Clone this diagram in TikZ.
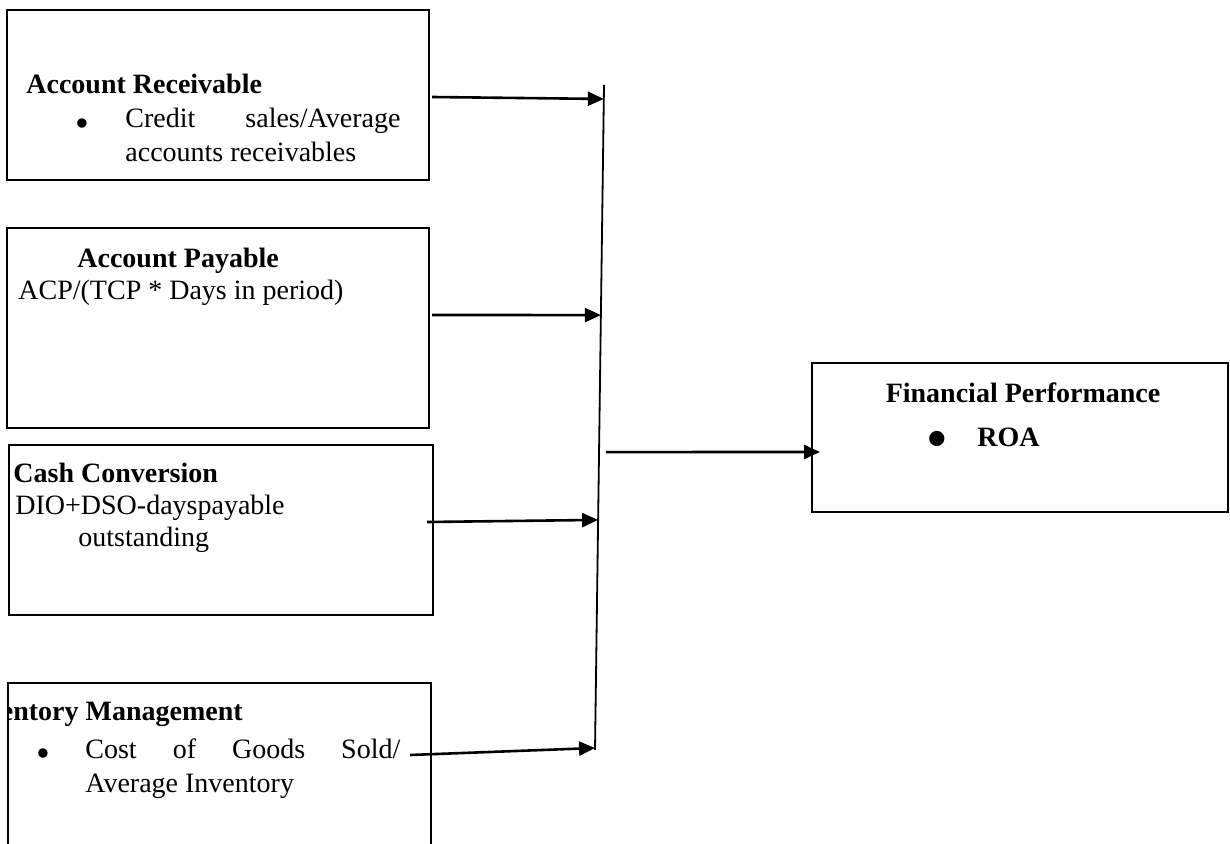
\documentclass[tikz,border=0pt]{standalone}
\usepackage{fontspec}
\setmainfont{Liberation Serif}
\usepackage{tikz}
\usetikzlibrary{arrows.meta,calc}
\tikzset{
  block/.style={
    draw,
    line width=1pt,
    inner sep=0pt,
    outer sep=0pt
  },
  txt/.style={
    inner sep=0pt,
    anchor=base west,
    font=\fontsize{14}{17}\selectfont
  },
  head/.style={
    txt,
    font=\fontsize{14}{17}\selectfont\bfseries
  },
  dot/.style={
    inner sep=0pt,
    anchor=base,
    font=\fontsize{14}{17}\selectfont
  },
  flow/.style={
    line width=1.3pt,
    -{Triangle[length=8pt,width=7pt]}
  },
  bus/.style={
    line width=0.9pt
  }
}
\begin{document}
\begin{tikzpicture}[x=0.5pt,y=-0.5pt]
        \useasboundingbox (0,0) rectangle (1230,844);
        \clip (0,0) rectangle (1230,844);
        % boxes
        \node[block, minimum width=211pt, minimum height=85pt] (recv) at (218,95) {};
        \node[block, minimum width=211pt, minimum height=100pt] (pay) at (218,328) {};
        \node[block, minimum width=212pt, minimum height=85pt] (cash) at (221,530) {};
        \node[block, minimum width=211.5pt, minimum height=101pt] (inv) at (219.5,784) {};
        \node[block, minimum width=208pt, minimum height=74.5pt] (fin) at (1020,437.5) {};
        % texts
        \node[head] (recvT) at (26,94) {Account Receivable};
        \node[dot] (recvB) at (82,136.5) {\scalebox{1.4}{•}};
        \node[txt] (recvL1) at (125,128) {\makebox[137.5pt][s]{Credit sales/Average}};
        \node[txt] (recvL2) at (125,162) {accounts receivables};
        \node[head] (payT) at (77,268) {Account Payable};
        \node[txt] (payL1) at (18,300) {ACP/(TCP * Days in period)};
        \node[head] (cashT) at (13,482) {Cash Conversion};
        \node[txt] (cashL1) at (15,514) {DIO+DSO-dayspayable};
        \node[txt] (cashL2) at (78,546) {outstanding};
        \begin{scope}
          \clip (inv.north west) rectangle (inv.south east);
          \node[head] (invT) at (-40,720) {Inventory Management};
        \end{scope}
        \node[dot] (invB) at (43,766.5) {\scalebox{1.4}{•}};
        \node[txt] (invL1) at (85,758) {\makebox[157.5pt][s]{Cost of Goods Sold/}};
        \node[txt] (invL2) at (85,792) {Average Inventory};
        \node[head, anchor=base] (finT) at (1023,402) {Financial Performance};
        \node[dot, font=\fontsize{14}{17}\selectfont\bfseries] (finB) at (937,457) {\scalebox{2}{•}};
        \node[head] (finL1) at (977,446) {ROA};
        % connectors
        \coordinate (bustop) at (604,85);
        \coordinate (busbot) at (595,750);
        \coordinate (in1) at ($(bustop)!0.021!(busbot)$);
        \coordinate (in2) at ($(bustop)!0.346!(busbot)$);
        \coordinate (in3) at ($(bustop)!0.654!(busbot)$);
        \coordinate (in4) at ($(bustop)!0.997!(busbot)$);
        \coordinate (out5) at ($(bustop)!0.552!(busbot)+(7,0)$);
        \draw[bus] (bustop) -- (busbot);
        \draw[flow] ([shift={(3,2)}]recv.east) -- (in1);
        \draw[flow] ([shift={(3,-13)}]pay.east) -- (in2);
        \draw[flow] ([shift={(-6,-8)}]cash.east) -- (in3);
        \draw[flow] ([shift={(-21,-29)}]inv.east) -- (in4);
        \draw[flow] (out5) -- ([shift={(8,14.5)}]fin.west);
\end{tikzpicture}
\end{document}
